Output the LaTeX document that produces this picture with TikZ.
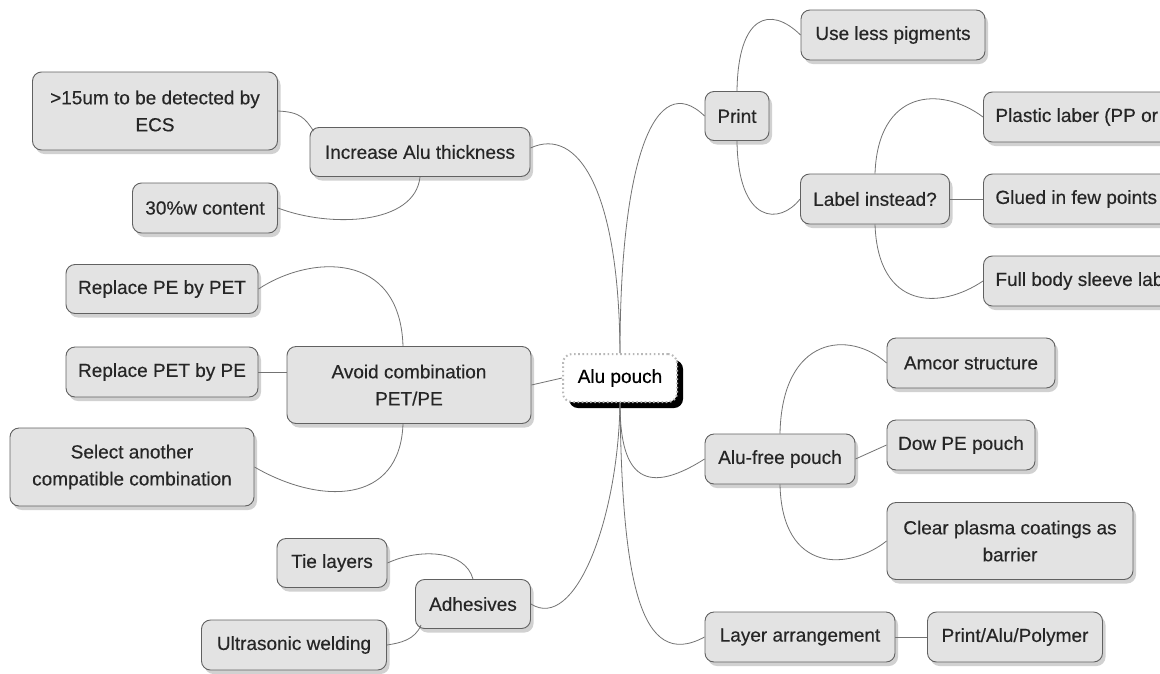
\documentclass[tikz,border=0pt]{standalone}
\usepackage{fontspec}
\setmainfont{Liberation Sans}
\newfontfamily\boxfont{Liberation Sans}[FakeBold=0.35]
\usetikzlibrary{shadows,calc}
\begin{document}
\begin{tikzpicture}[x=1pt,y=-1pt,
  box/.style={draw=black!62, line width=0.9pt, fill=black!11, rounded corners=9pt,
    align=center, inner sep=0pt, text=black!85, font=\boxfont\fontsize{19}{27}\selectfont,
    drop shadow={shadow xshift=3pt, shadow yshift=-4pt, fill=black!45, opacity=0.4}},
  cutbox/.style={box, anchor=west, inner xsep=12pt, minimum height=50pt},
  centerbox/.style={draw=black!28, line width=2pt, dash pattern=on 1.6pt off 2.6pt,
    fill=white, rounded corners=9pt, inner sep=0pt, text=black,
    font=\boxfont\fontsize{19}{27}\selectfont,
    drop shadow={shadow xshift=6pt, shadow yshift=-6pt, fill=black, opacity=1}},
  conn/.style={draw=black!55, line width=0.8pt},
]
\path[use as bounding box, fill=white] (0,0) rectangle (1160,673);
\clip (0,0) rectangle (1160,673);

% central
\node[centerbox, minimum width=114pt, minimum height=48pt] (alu) at (620,378) {Alu pouch};

% left side
\node[box, minimum width=245pt, minimum height=78pt] (ecs) at (155,111) {>15um to be detected by\\ECS};
\node[box, minimum width=220pt, minimum height=49pt] (inc) at (420,152) {Increase Alu thickness};
\node[box, minimum width=145pt, minimum height=50pt] (w30) at (205,208) {30\%w content};
\node[box, minimum width=192pt, minimum height=49pt] (pe2pet) at (162,289) {Replace PE by PET};
\node[box, minimum width=192pt, minimum height=50pt] (pet2pe) at (162,372) {Replace PET by PE};
\node[box, minimum width=244pt, minimum height=77pt] (avoid) at (409,385) {Avoid combination\\PET/PE};
\node[box, minimum width=244pt, minimum height=78pt] (select) at (132,467) {Select another\\compatible combination};
\node[box, minimum width=110pt, minimum height=49pt] (tie) at (332,563) {Tie layers};
\node[box, minimum width=115pt, minimum height=49pt] (adh) at (473,604) {Adhesives};
\node[box, minimum width=185pt, minimum height=50pt] (ultra) at (294,645) {Ultrasonic welding};

% right side
\node[box, minimum width=64pt, minimum height=49pt] (print) at (737,116) {Print};
\node[box, minimum width=184pt, minimum height=50pt] (ulp) at (893,35) {Use less pigments};
\node[box, minimum width=149pt, minimum height=50pt] (label) at (875,199) {Label instead?};
\node[cutbox] (plastic) at (983,117) {Plastic laber (PP or PE)};
\node[cutbox] (glued) at (983,199) {Glued in few points};
\node[cutbox] (full) at (983,281) {Full body sleeve label};
\node[box, minimum width=168pt, minimum height=50pt] (amcor) at (971,363) {Amcor structure};
\node[box, minimum width=148pt, minimum height=50pt] (dow) at (961,445) {Dow PE pouch};
\node[box, minimum width=150pt, minimum height=50pt] (alufree) at (780,459) {Alu-free pouch};
\node[box, minimum width=246pt, minimum height=77pt] (clear) at (1010,541) {Clear plasma coatings as\\barrier};
\node[box, minimum width=190pt, minimum height=50pt] (layer) at (800,637) {Layer arrangement};
\node[box, minimum width=175pt, minimum height=50pt] (pap) at (1015,637) {Print/Alu/Polymer};

% connectors from centre
\draw[conn] ($(inc.east)+(0,-4)$) .. controls (578,126) and (619,190) .. (alu.north);
\draw[conn] (alu.north) .. controls (620,160) and (655,68) .. (print.west);
\draw[conn] (avoid.east) -- (alu.west);
\draw[conn] (adh.east) .. controls (575,632) and (618,520) .. (alu.south);
\draw[conn] (alu.south) .. controls (620,470) and (640,500) .. (alufree.west);
\draw[conn] (alu.south) .. controls (622,580) and (640,672) .. (layer.west);

% left children
\draw[conn] (ecs.east) .. controls (300,112) and (305,118) .. ($(inc.north west)+(4,4)$);
\draw[conn] (inc.south) .. controls (415,225) and (330,228) .. (w30.east);
\draw[conn] ($(avoid.north)+(-6,0)$) .. controls (400,250) and (310,255) .. (pe2pet.east);
\draw[conn] (pet2pe.east) -- (avoid.west |- pet2pe.east);
\draw[conn] ($(avoid.south)+(-6,0)$) .. controls (400,505) and (320,505) .. (select.east);
\draw[conn] (adh.north) .. controls (465,550) and (420,548) .. (tie.east);
\draw[conn] ($(adh.south west)+(6,-4)$) .. controls (415,640) and (400,643) .. (ultra.east);

% right children
\draw[conn] (print.north) .. controls (738,15) and (770,5) .. (ulp.west);
\draw[conn] (print.south) .. controls (738,225) and (780,225) .. (label.west);
\draw[conn] (label.north) .. controls (878,90) and (940,85) .. (plastic.west);
\draw[conn] (label.east) -- (glued.west);
\draw[conn] (label.south) .. controls (878,310) and (940,310) .. (full.west);
\draw[conn] (alufree.north) .. controls (782,335) and (850,330) .. (amcor.west);
\draw[conn] (alufree.east) -- (dow.west);
\draw[conn] (alufree.south) .. controls (782,575) and (850,570) .. (clear.west);
\draw[conn] (layer.east) -- (pap.west);
\end{tikzpicture}
\end{document}
